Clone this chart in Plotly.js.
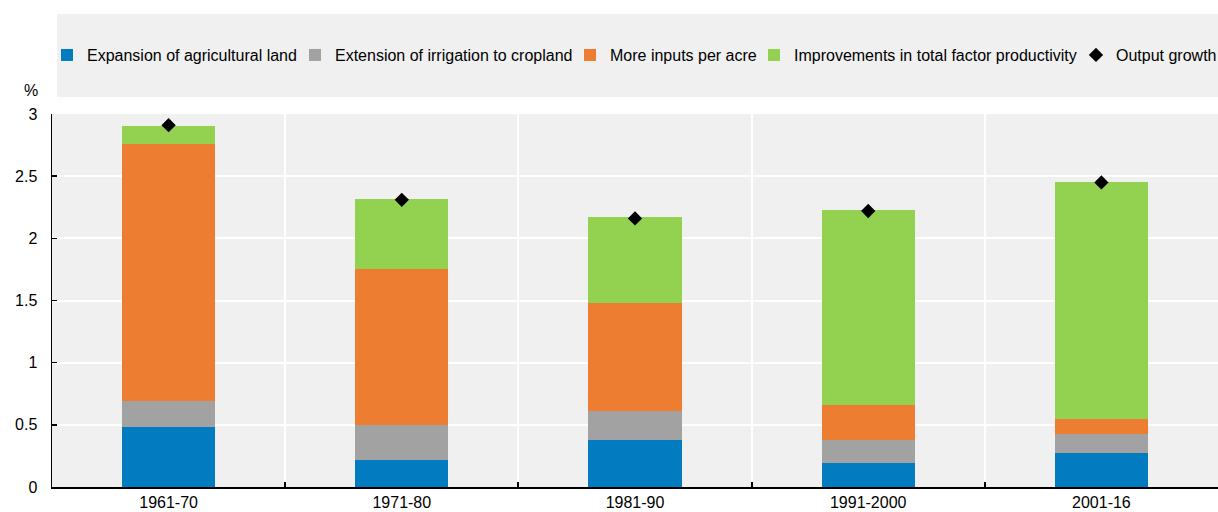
<!DOCTYPE html>
<html>
<head>
<meta charset="utf-8">
<script src="https://cdn.plot.ly/plotly-3.0.1.min.js"></script>
<style>html,body{margin:0;padding:0;background:#fff;}#chart{width:1218px;height:512px;}</style>
</head>
<body>
<div id="chart"></div>
<script>
const periods = ["1961-70", "1971-80", "1981-90", "1991-2000", "2001-16"];
const expansionLand = [0.48, 0.22, 0.38, 0.19, 0.27];
const irrigation = [0.21, 0.28, 0.23, 0.19, 0.16];
const moreInputs = [2.07, 1.25, 0.87, 0.28, 0.12];
const tfp = [0.14, 0.57, 0.69, 1.57, 1.90];
const outputGrowth = [2.91, 2.31, 2.16, 2.22, 2.45];
const yTicks = [0, 0.5, 1, 1.5, 2, 2.5, 3];
const yTickText = ["0", "0.5", "1", "1.5", "2", "2.5", "3"];

const FONT = "'Liberation Sans', Arial, sans-serif";

function barTrace(name, vals, color, lw) {
  return {
    type: 'bar', name: name, x: periods, y: vals, width: 0.4,
    marker: {color: color, line: {width: 0}},
    legendwidth: lw,
    hoverinfo: 'skip'
  };
}

const data = [
  barTrace('Expansion of agricultural land', expansionLand, '#037bc1', 203),
  barTrace('Extension of irrigation to cropland', irrigation, '#a2a2a2', 230),
  barTrace('More inputs per acre', moreInputs, '#ed7d31', 139),
  barTrace('Improvements in total factor productivity', tfp, '#93d150', 277),
  {
    type: 'scatter', mode: 'markers', name: 'Output growth', x: periods, y: outputGrowth,
    marker: {symbol: 'diamond', color: '#000000', size: 11},
    legendwidth: 100
  }
];

const layout = {
  width: 1218, height: 512,
  margin: {l: 52, r: 0, t: 114, b: 25, autoexpand: false},
  paper_bgcolor: '#ffffff',
  plot_bgcolor: '#f0f0f0',
  barmode: 'stack',
  bargap: 0.6,
  showlegend: true,
  font: {family: FONT, size: 16, color: '#000'},
  legend: {
    orientation: 'h', traceorder: 'normal',
    x: -0.0043, xanchor: 'left', y: 1.158, yanchor: 'middle',
    bgcolor: 'rgba(0,0,0,0)', borderwidth: 0,
    font: {family: FONT, size: 16, color: '#000'},
    itemwidth: 30
  },
  xaxis: {
    type: 'category', tickson: 'boundaries',
    showgrid: true, gridcolor: '#ffffff', gridwidth: 2,
    showline: true, linecolor: '#000', linewidth: 2,
    ticks: 'inside', ticklen: 5, tickcolor: '#000', tickwidth: 2,
    tickfont: {family: FONT, size: 16, color: '#000'},
    fixedrange: true
  },
  yaxis: {
    range: [0, 3], tickmode: 'array', tickvals: yTicks, ticktext: yTickText,
    showgrid: true, gridcolor: '#ffffff', gridwidth: 2, zeroline: false,
    showline: true, linecolor: '#000', linewidth: 1.5,
    ticks: 'inside', ticklen: 5, tickcolor: '#000', tickwidth: 1.5,
    ticklabelstandoff: 10,
    tickfont: {family: FONT, size: 16, color: '#000'},
    fixedrange: true
  },
  shapes: [{
    type: 'rect', xref: 'paper', yref: 'paper', layer: 'below',
    x0: 0.0043, x1: 1, y0: 1.0456, y1: 1.268,
    fillcolor: '#f0f0f0', line: {width: 0}
  }],
  annotations: [{
    text: '%', xref: 'paper', yref: 'paper', x: -0.018, y: 1.064,
    xanchor: 'center', yanchor: 'middle', showarrow: false,
    font: {family: FONT, size: 16, color: '#000'}
  }]
};

Plotly.newPlot('chart', data, layout, {displayModeBar: false, staticPlot: true});
</script>
</body>
</html>
